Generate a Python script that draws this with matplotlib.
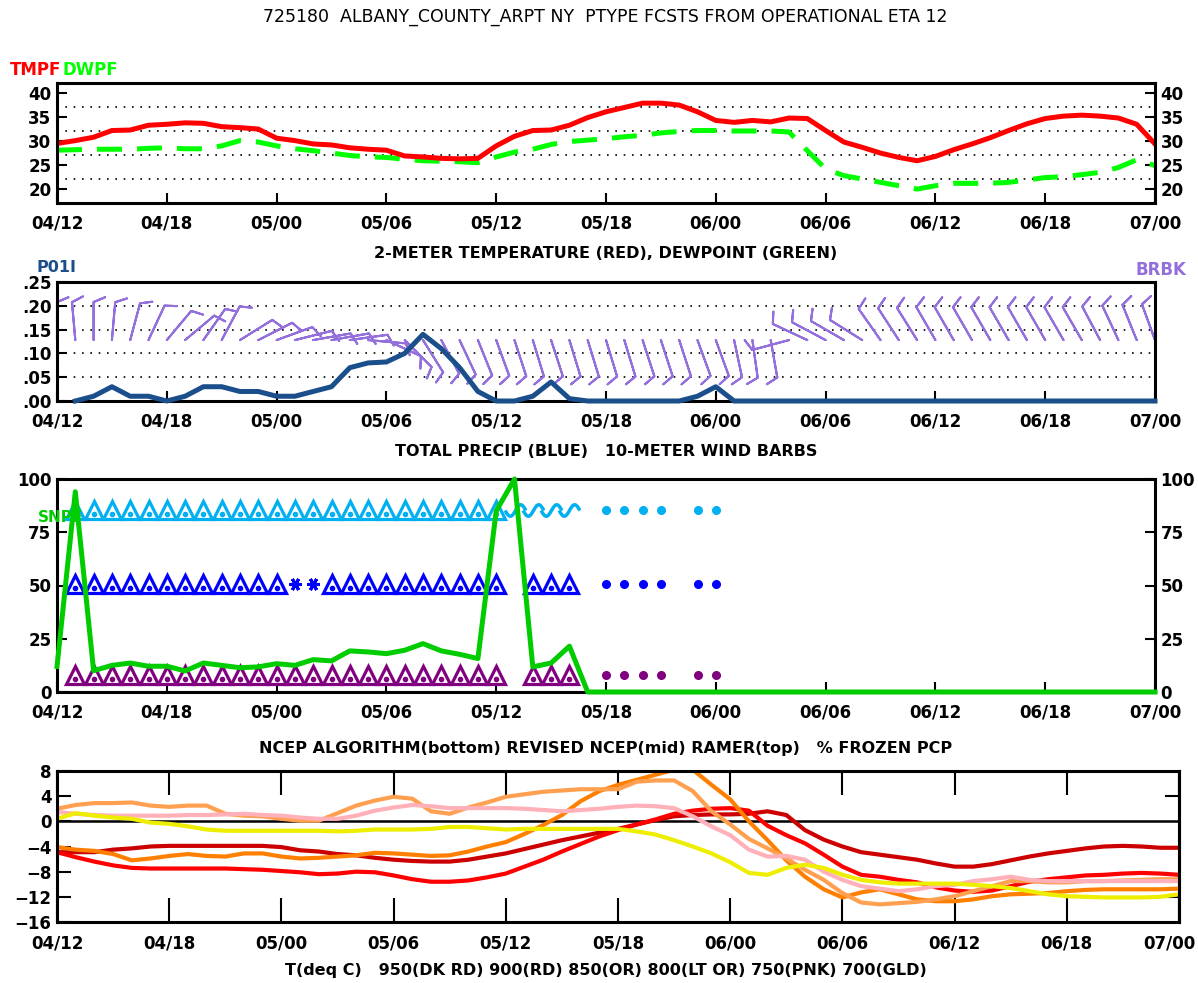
import numpy as np
import matplotlib
matplotlib.use("Agg")
import matplotlib.pyplot as plt
from matplotlib.path import Path
from matplotlib.transforms import offset_copy

FONT = ['DejaVu Sans']
plt.rcParams['font.family'] = FONT
plt.rcParams['font.weight'] = 'bold'

# hourly forecast, hour 0 = 04/12 ... hour 60 = 07/00
HOURS = np.arange(61)
XTICKS = [0, 6, 12, 18, 24, 30, 36, 42, 48, 54, 60]
XLABELS = ['04/12', '04/18', '05/00', '05/06', '05/12', '05/18',
           '06/00', '06/06', '06/12', '06/18', '07/00']

TMPF = [29.4, 30.0, 30.7, 32.1, 32.2, 33.2, 33.4, 33.7, 33.6, 32.9,
        32.7, 32.4, 30.5, 30.0, 29.3, 29.1, 28.5, 28.2, 28.0, 26.8,
        26.6, 26.3, 26.2, 26.3, 28.9, 30.9, 32.1, 32.2, 33.2, 34.8,
        36.0, 36.9, 37.8, 37.8, 37.4, 36.0, 34.2, 33.8, 34.2, 33.9,
        34.7, 34.6, 32.1, 29.7, 28.6, 27.4, 26.5, 25.8, 26.7, 28.1,
        29.3, 30.6, 32.1, 33.5, 34.6, 35.1, 35.3, 35.1, 34.7, 33.4, 29.3]
DWPF = [28.0, 28.1, 28.2, 28.2, 28.2, 28.4, 28.5, 28.3, 28.3, 28.9,
        30.0, 29.7, 28.9, 28.3, 27.9, 27.4, 26.9, 26.6, 26.5, 26.1,
        25.8, 25.7, 25.6, 25.4, 26.6, 27.6, 28.2, 29.2, 29.8, 30.1,
        30.4, 30.8, 31.1, 31.6, 31.9, 32.1, 32.1, 32.0, 32.0, 32.0,
        31.8, 27.9, 24.1, 22.7, 22.0, 21.3, 20.6, 19.9, 20.6, 21.1,
        21.1, 21.1, 21.3, 21.8, 22.3, 22.5, 22.9, 23.4, 24.4, 26.0, 24.8]

P01I = [np.nan, 0.0, 0.01, 0.03, 0.01, 0.01, 0.0, 0.01, 0.03, 0.03,
        0.02, 0.02, 0.01, 0.01, 0.02, 0.03, 0.07, 0.08, 0.082, 0.10,
        0.14, 0.11, 0.07, 0.02, 0.0, 0.0, 0.01, 0.04, 0.005, 0.0,
        0.0, 0.0, 0.0, 0.0, 0.0, 0.01, 0.03, 0.0] + [0.0] * 23

# wind direction (deg, from) and speed (kt)
WIND_DIR = [0, 355, 0, 5, 15, 25, 40, 50, 35, 28,
            58, 63, 70, 76, 80, 80, 82, 95, 115, 135,
            148, 152, 155, 158, 160, 162, 163, 162, 163, 163,
            163, 163, 162, 162, 162, 160, 160, 168, 172, 170,
            255, 295, 298, 300, 302, 325, 327, 328, 330, 330,
            330, 330, 330, 330, 330, 330, 330, 332, 335, 338, 340]
WIND_SPD = [10] * 61

PCT_FROZEN = [12, 94, 10, 12.5, 13.6, 12.1, 12.1, 9.9, 13.6, 12.5,
              11.4, 11.8, 13.3, 12.5, 15.2, 14.6, 19.3, 18.8, 18.0, 19.6,
              22.7, 19.3, 17.7, 15.7, 85, 100, 11.8, 13.6, 21.5, 0] + [0] * 31

# precip type per hour: IP sleet, ZR freezing rain, SN snow, RA rain
RAMER = [''] + ['IP'] * 24 + ['ZR'] * 4 + [''] + ['RA'] * 4 + [''] + ['RA'] * 2 + [''] * 24
REVISED_NCEP = [''] + ['IP'] * 12 + ['SN'] * 2 + ['IP'] * 10 + [''] + ['IP'] * 3 + [''] \
    + ['RA'] * 4 + [''] + ['RA'] * 2 + [''] * 24
NCEP = [''] + ['IP'] * 24 + [''] + ['IP'] * 3 + [''] + ['RA'] * 4 + [''] + ['RA'] * 2 + [''] * 24

T950 = [-4.9, -4.9, -4.9, -4.5, -4.3, -4.0, -3.9, -3.9, -3.9, -3.9,
        -3.9, -3.9, -4.1, -4.6, -4.8, -5.2, -5.4, -5.8, -6.1, -6.3,
        -6.4, -6.4, -6.1, -5.6, -5.1, -4.4, -3.7, -3.0, -2.4, -1.8,
        -1.2, -0.5, 0.2, 0.8, 1.0, 1.1, 1.1, 1.2, 1.6, 1.0,
        -1.4, -2.9, -4.0, -4.9, -5.3, -5.7, -6.1, -6.7, -7.2, -7.2,
        -6.8, -6.2, -5.6, -5.1, -4.7, -4.3, -4.0, -3.9, -4.0, -4.2, -4.2]
T900 = [-4.9, -5.7, -6.4, -7.0, -7.4, -7.5, -7.5, -7.5, -7.5, -7.5,
        -7.6, -7.7, -7.9, -8.1, -8.4, -8.3, -8.0, -8.1, -8.6, -9.2,
        -9.6, -9.6, -9.4, -8.9, -8.3, -7.2, -6.1, -4.8, -3.6, -2.4,
        -1.4, -0.5, 0.3, 1.2, 1.7, 2.0, 2.1, 1.7, -0.7, -2.2,
        -3.5, -5.3, -7.2, -8.5, -8.8, -9.3, -9.7, -10.5, -11.0, -11.2,
        -11.0, -10.3, -9.6, -9.2, -8.9, -8.6, -8.5, -8.3, -8.2, -8.3, -8.5]
T850 = [-4.1, -4.5, -4.7, -5.2, -6.2, -5.9, -5.5, -5.2, -5.5, -5.6,
        -5.1, -5.1, -5.6, -5.9, -5.8, -5.6, -5.4, -5.0, -5.1, -5.3,
        -5.5, -5.4, -4.8, -4.0, -3.3, -2.0, -0.6, 1.0, 3.2, 4.8,
        5.8, 6.6, 7.4, 8.2, 8.2, 5.8, 3.5, 0.0, -3.0, -6.2,
        -8.8, -10.8, -12.1, -11.3, -10.8, -11.6, -12.4, -12.7, -12.7, -12.4,
        -11.9, -11.6, -11.5, -11.4, -11.1, -10.9, -10.8, -10.8, -10.8, -10.8, -10.7]
T800 = [2.0, 2.6, 2.9, 2.9, 3.0, 2.5, 2.3, 2.5, 2.5, 1.2,
        0.9, 0.8, 0.4, 0.1, 0.1, 1.3, 2.5, 3.3, 3.9, 3.6,
        1.6, 1.2, 2.2, 3.0, 3.9, 4.3, 4.7, 4.9, 5.1, 5.1,
        5.1, 6.3, 6.5, 6.5, 4.8, 1.6, -0.5, -2.8, -4.3, -5.9,
        -7.7, -9.3, -11.4, -12.9, -13.2, -13.0, -12.8, -12.4, -11.9, -11.1,
        -10.3, -9.5, -9.5, -9.7, -9.7, -9.5, -9.5, -9.4, -9.3, -9.2, -9.2]
T750 = [1.5, 1.2, 1.0, 0.9, 0.9, 0.9, 0.9, 1.0, 1.0, 1.1,
        1.2, 1.0, 0.9, 0.6, 0.4, 0.4, 0.9, 1.7, 2.2, 2.6,
        2.4, 2.1, 2.1, 2.1, 2.1, 2.0, 1.8, 1.6, 1.8, 2.0,
        2.3, 2.5, 2.4, 2.1, 0.8, -0.8, -2.2, -4.5, -5.6, -5.5,
        -6.1, -8.0, -9.3, -10.3, -10.7, -11.1, -10.8, -10.3, -10.1, -9.5,
        -9.2, -8.8, -9.3, -9.5, -9.5, -9.5, -9.5, -9.5, -9.5, -9.5, -9.5]
T700 = [0.4, 1.3, 0.9, 0.6, 0.4, -0.2, -0.4, -0.8, -1.3, -1.5,
        -1.5, -1.5, -1.5, -1.5, -1.5, -1.6, -1.5, -1.3, -1.3, -1.3,
        -1.2, -0.9, -0.9, -1.1, -1.3, -1.2, -1.2, -1.2, -1.2, -1.2,
        -1.2, -1.6, -2.1, -3.0, -4.0, -5.1, -6.5, -8.2, -8.5, -7.4,
        -6.9, -7.4, -8.5, -9.3, -9.7, -9.9, -9.9, -9.9, -9.9, -10.1,
        -10.3, -10.6, -11.1, -11.6, -11.9, -12.0, -12.1, -12.1, -12.1, -12.0, -11.6]

W, H = 1198, 983
fig = plt.figure(figsize=(W / 100, H / 100), dpi=100)


def box(left, top, right, bottom):
    return [left / W, 1 - bottom / H, (right - left) / W, (bottom - top) / H]


def label(px, py, s, **kw):
    kw.setdefault('va', 'center')
    fig.text(px / W, 1 - py / H, s, **kw)


def frame(ax, xlen=7):
    for sp in ax.spines.values():
        sp.set_linewidth(2.2)
    ax.set_xlim(0, 60)
    ax.set_xticks(XTICKS)
    ax.set_xticklabels(XLABELS)
    ax.tick_params(direction='in', labelsize=12, width=1.5)
    ax.tick_params(axis='x', length=xlen, pad=8)
    ax.tick_params(axis='y', length=7, pad=4)


def dotted_grid(ax, levels):
    for g in levels:
        ax.axhline(g, color='black', lw=1.2, ls=(0, (1, 4)), zorder=0)


# freezing rain glyph: a sideways S curl
t = np.linspace(0, 2 * np.pi, 40)
ZR_MARK = Path(np.column_stack([t / np.pi - 1, -0.55 * np.sin(t)]))

# ---- panel 1: temperature / dewpoint
ax1 = fig.add_axes(box(57, 83, 1155, 203))
frame(ax1)
ax1.set_ylim(17, 42)
ax1.set_yticks([20, 25, 30, 35, 40])
ax1.tick_params(axis='y', right=True, labelright=True)
dotted_grid(ax1, [22, 27, 32, 37])
ax1.plot(HOURS, DWPF, color='#00FF00', lw=3.6, ls=(0, (5, 3)), dash_capstyle='butt')
ax1.plot(HOURS, TMPF, color='#FF0000', lw=3.6)

# ---- panel 2: precip and wind barbs
ax2 = fig.add_axes(box(57, 282, 1155, 401))
frame(ax2)
ax2.set_ylim(0, 0.25)
ax2.set_yticks([0, 0.05, 0.10, 0.15, 0.20, 0.25])
ax2.set_yticklabels(['.00', '.05', '.10', '.15', '.20', '.25'])
dotted_grid(ax2, [0.05, 0.10, 0.15, 0.20])
rad = np.deg2rad(WIND_DIR)
spd = np.array(WIND_SPD, dtype=float)
u = -spd * np.sin(rad)
v = -spd * np.cos(rad)
ax2.barbs(HOURS, np.full(61, 0.128), u, v, length=7.4, color='#9370DB',
          linewidth=1.5, sizes=dict(height=0.3, spacing=0.12), clip_on=False)
ax2.plot(HOURS, P01I, color='#1B4F8C', lw=3.6, clip_on=False, zorder=3)

# ---- panel 3: precip type and percent frozen
ax3 = fig.add_axes(box(57, 479, 1155, 692))
frame(ax3)
ax3.set_ylim(0, 100)
ax3.set_yticks([0, 25, 50, 75, 100])
ax3.tick_params(axis='y', right=True, labelright=True)

rows = [(RAMER, 85.5, '#00B0F0'), (REVISED_NCEP, 50.5, '#0000FF'), (NCEP, 7.8, '#800080')]
for codes, ylev, col in rows:
    codes = np.array(codes)
    for code in ['IP', 'ZR', 'SN', 'RA']:
        xs = HOURS[codes == code]
        if len(xs) == 0:
            continue
        ys = np.full(len(xs), ylev)
        if code == 'IP':
            ax3.plot(xs, ys, ls='none', marker='^', ms=12.5, mfc='white', mec=col, mew=2.3)
            ax3.plot(xs, ys - 1.8, ls='none', marker='o', ms=3, color=col)
        elif code == 'ZR':
            ax3.plot(xs, ys, ls='none', marker=ZR_MARK, ms=15, mfc='none', mec=col, mew=2.5)
        elif code == 'SN':
            ax3.plot(xs, ys, ls='none', marker=(6, 2, 90), ms=9, mec=col, mew=2.2)
        else:
            ax3.plot(xs, ys, ls='none', marker='o', ms=5.5, color=col)
ax3.plot(HOURS, PCT_FROZEN, color='#00CC00', lw=3.6, zorder=4, clip_on=False)

# ---- panel 4: layer temperatures
ax4 = fig.add_axes(box(57, 771, 1179, 922))
frame(ax4, xlen=17)
ax4.tick_params(axis='x', top=True, pad=9)
ax4.set_ylim(-16, 8)
ax4.set_yticks(np.arange(-16, 9, 4))
ax4.tick_params(axis='y', length=10)
sec = ax4.secondary_yaxis('right')
sec.set_yticks([4, -12])
sec.tick_params(direction='in', length=10, width=1.5, labelright=False)
sec.spines['right'].set_linewidth(2.2)
ax4.axhline(0, color='black', lw=1.8, zorder=1)
layers = [(T950, '#CC0000'), (T900, '#FF0000'), (T850, '#FF8000'),
          (T800, '#FFA050'), (T750, '#FFB0B8'), (T700, '#EEEE00')]
for vals, col in layers:
    ax4.plot(HOURS, vals, color=col, lw=3.0, zorder=2)
# last date label sits at the figure edge; nudge it inside
last = ax4.get_xticklabels()[-1]
last.set_transform(offset_copy(last.get_transform(), fig=fig, x=-10, units='dots'))

# ---- texts
label(605, 17, '725180  ALBANY_COUNTY_ARPT NY  PTYPE FCSTS FROM OPERATIONAL ETA 12',
      ha='center', fontsize=12.5, weight='normal')
label(10, 70, 'TMPF', color='#FF0000', fontsize=12)
label(63, 70, 'DWPF', color='#00FF00', fontsize=12)
label(606, 254, '2-METER TEMPERATURE (RED), DEWPOINT (GREEN)', ha='center', fontsize=11.5)
label(36, 268, 'P01I', color='#1B4F8C', fontsize=11.5)
label(1186, 270, 'BRBK', color='#9370DB', fontsize=12, ha='right')
label(606, 452, 'TOTAL PRECIP (BLUE)   10-METER WIND BARBS', ha='center', fontsize=11.5)
label(38, 517, 'SNPF', color='#00CC00', fontsize=11)
label(606, 749, 'NCEP ALGORITHM(bottom) REVISED NCEP(mid) RAMER(top)   % FROZEN PCP',
      ha='center', fontsize=11.5)
label(606, 970, 'T(deq C)   950(DK RD) 900(RD) 850(OR) 800(LT OR) 750(PNK) 700(GLD)',
      ha='center', fontsize=11.5)

fig.savefig('out.png', dpi=100)
